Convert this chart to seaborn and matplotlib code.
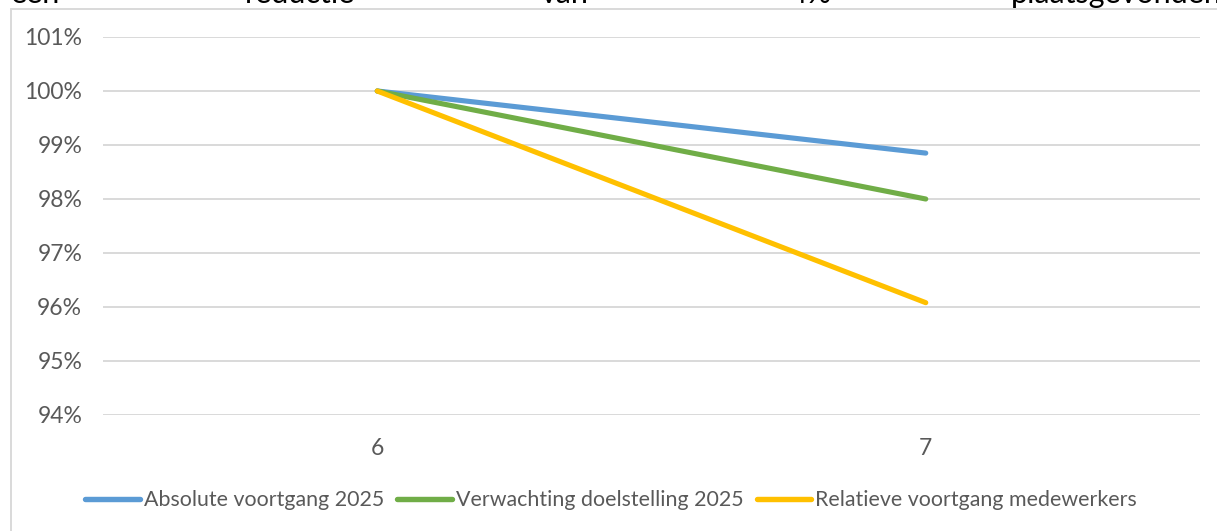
import matplotlib
matplotlib.use("Agg")
import matplotlib.pyplot as plt
from matplotlib.lines import Line2D
import seaborn as sns
import pandas as pd

# ---- data ----
categories = ["6", "7"]
absolute_voortgang = [100.0, 98.85]
verwachting_doelstelling = [100.0, 98.0]
relatieve_voortgang = [100.0, 96.08]
series_names = ["Absolute voortgang 2025", "Verwachting doelstelling 2025",
                "Relatieve voortgang medewerkers"]
y_ticks = [94, 95, 96, 97, 98, 99, 100, 101]
top_words = ["een", "reductie", "van", "4%", "plaatsgevonden."]

colors = ["#5B9BD5", "#70AD47", "#FFC000"]

rows = []
for name, vals in zip(series_names, [absolute_voortgang, verwachting_doelstelling, relatieve_voortgang]):
    for c, v in zip(categories, vals):
        rows.append({"cat": c, "val": v, "serie": name})
df = pd.DataFrame(rows)

sns.set_theme(style="white")
plt.rcParams["font.family"] = ["Lato", "DejaVu Sans"]

W, H = 1217, 531
fig = plt.figure(figsize=(W / 100, H / 100), dpi=100)
fig.patch.set_facecolor("white")

ax = fig.add_axes([103 / W, 1 - 415 / H, (1200 - 103) / W, (415 - 37) / H])
sns.lineplot(data=df, x="cat", y="val", hue="serie", palette=colors,
             linewidth=3.7, solid_capstyle="round", legend=False, ax=ax, zorder=3)

ax.set_xlim(-0.5, 1.5)
ax.set_ylim(94, 101)
ax.set_yticks(y_ticks)
ax.set_yticklabels([f"{t}%" for t in y_ticks])
ax.set_xlabel("")
ax.set_ylabel("")
for s in ax.spines.values():
    s.set_visible(False)
ax.grid(axis="y", color="#D9D9D9", linewidth=1.4, zorder=0)
ax.grid(axis="x", visible=False)
ax.tick_params(axis="y", length=0, pad=15, labelsize=16.5, labelcolor="#595959")
ax.tick_params(axis="x", length=0, pad=16.5, labelsize=16.5, labelcolor="#595959")

handles = [Line2D([0], [0], color=c, linewidth=3.9, solid_capstyle="round") for c in colors]
fig.legend(handles, series_names, loc="center", bbox_to_anchor=(611 / W, 1 - 500 / H),
           ncol=3, frameon=False, fontsize=15.4, handlelength=2.55, handletextpad=0.18,
           columnspacing=0.62, labelcolor="#595959")

# chart frame (left and top edges visible)
fig.add_artist(Line2D([11 / W, 11 / W], [0, 1 - 8.5 / H], transform=fig.transFigure,
                      color="#D9D9D9", linewidth=1.4))
fig.add_artist(Line2D([11 / W, 1], [1 - 8.5 / H, 1 - 8.5 / H], transform=fig.transFigure,
                      color="#D9D9D9", linewidth=1.4))

# clipped justified text from page above the chart
word_x = [11, 245, 541, 790, 1011]
for w, x in zip(top_words, word_x):
    fig.text(x / W, 1 - 3 / H, w, fontsize=22, color="black", ha="left", va="baseline")

fig.savefig("out.png", dpi=100)
